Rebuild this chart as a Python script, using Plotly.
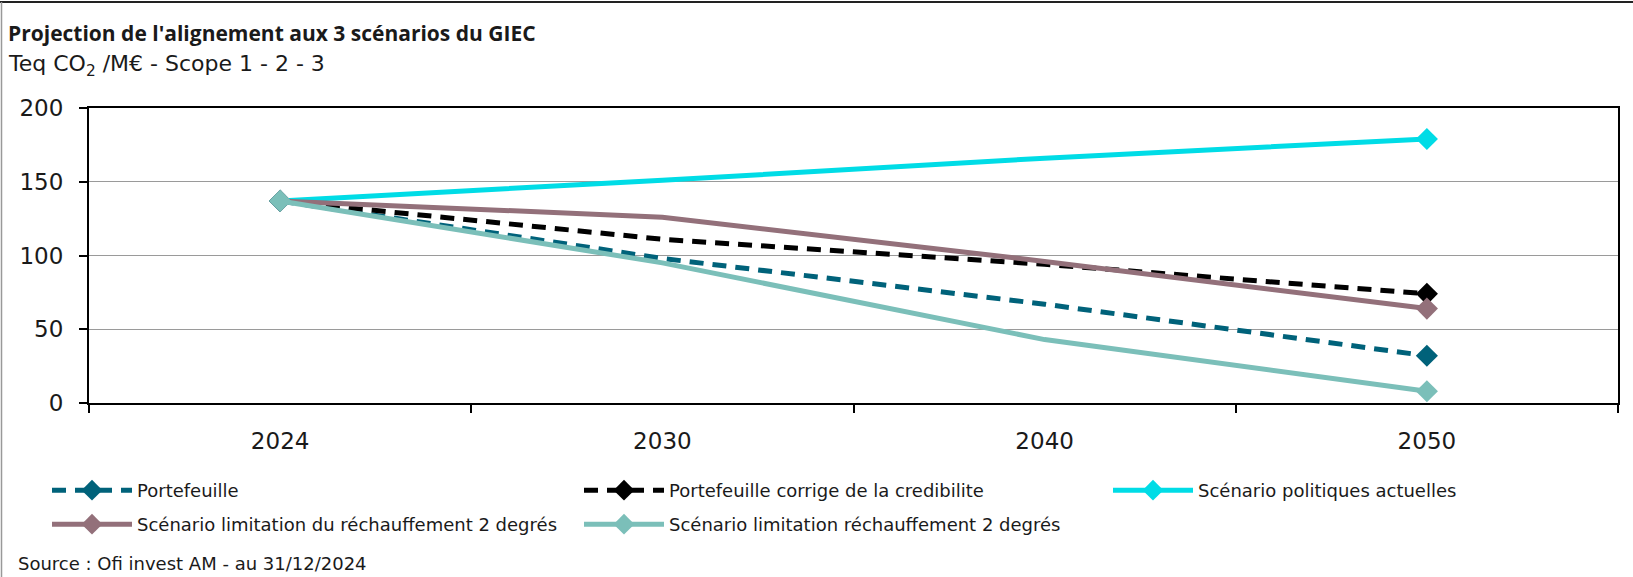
import plotly.graph_objects as go

years = ["2024", "2030", "2040", "2050"]
portefeuille = [137, 98, 67, 32]
portefeuille_corrige = [137, 111, 94, 74]
scen_politiques = [137, 151, 166, 179]
scen_2deg_du = [137, 126, 96, 64]
scen_2deg = [137, 95, 43, 8]

names = [
    "Portefeuille",
    "Portefeuille corrige de la credibilite",
    "Scénario politiques actuelles",
    "Scénario limitation du réchauffement 2 degrés",
    "Scénario limitation réchauffement 2 degrés",
]
series = [portefeuille, portefeuille_corrige, scen_politiques, scen_2deg_du, scen_2deg]
colors = ["#00627A", "#000000", "#00DCE6", "#93707A", "#7BBFB9"]
dashes = ["14px,9px", "14px,9px", "solid", "solid", "solid"]
legends = ["legend", "legend", "legend3", "legend2", "legend2"]

W, H = 1633, 577
L, R, T, B = 89, 15, 108, 174
pw, ph = W - L - R, H - T - B

def px(x):
    return (x - L) / pw

def py(y):
    return (H - B - y) / ph

FONT = "DejaVu Sans"
TFONT = "Open Sans"
TXT = "#1a1a1a"

fig = go.Figure()
for name, vals, c, d, lg in zip(names, series, colors, dashes, legends):
    fig.add_trace(go.Scatter(
        x=years, y=vals, name=name, mode="lines+markers", legend=lg,
        line=dict(color=c, width=5, dash=d),
        marker=dict(symbol="diamond", size=17, color=c),
        selectedpoints=[0, len(vals) - 1],
        selected=dict(marker=dict(opacity=1)),
        unselected=dict(marker=dict(opacity=0)),
    ))

leg_common = dict(
    orientation="h", xanchor="left", yanchor="top", itemwidth=80,
    entrywidthmode="pixels",
    font=dict(size=18, family=FONT, color=TXT),
    bgcolor="rgba(0,0,0,0)",
)

fig.update_layout(
    width=W, height=H,
    margin=dict(l=L, r=R, t=T, b=B, autoexpand=False),
    paper_bgcolor="white", plot_bgcolor="white",
    font=dict(family=FONT, color=TXT),
    showlegend=True,
    legend=dict(x=px(47), y=py(472), entrywidth=437, **leg_common),
    legend3=dict(x=px(1108), y=py(472), entrywidth=300, **leg_common),
    legend2=dict(x=px(47), y=py(506), entrywidth=437, **leg_common),
    xaxis=dict(
        type="category", range=[-0.5, 3.5], tickson="boundaries",
        ticks="outside", ticklen=8,
        tickcolor="black", tickwidth=1.5, showline=True, linecolor="black",
        linewidth=2, mirror=True, showgrid=False, zeroline=False,
        tickfont=dict(size=23, family=FONT, color=TXT),
        ticklabelstandoff=16,
    ),
    yaxis=dict(
        range=[0, 200], dtick=50, ticks="outside", ticklen=8, tickcolor="black",
        tickwidth=1.5, showline=True, linecolor="black", linewidth=2, mirror=True,
        showgrid=True, gridcolor="#9a9a9a", gridwidth=1, zeroline=False,
        tickfont=dict(size=23, family=FONT, color=TXT),
        ticklabelstandoff=11,
    ),
    annotations=[
        dict(text="<b>Projection de l'alignement aux 3 scénarios du GIEC</b>",
             xref="paper", yref="paper", x=px(6), y=py(33), xanchor="left",
             yanchor="middle", showarrow=False,
             font=dict(size=21, family=TFONT, color=TXT)),
        dict(text="Teq CO<sub>2</sub> /M€ - Scope 1 - 2 - 3",
             xref="paper", yref="paper", x=px(6), y=py(65), xanchor="left",
             yanchor="middle", showarrow=False,
             font=dict(size=22, family=FONT, color=TXT)),
        dict(text="Source : Ofi invest AM - au 31/12/2024",
             xref="paper", yref="paper", x=px(16), y=py(563), xanchor="left",
             yanchor="middle", showarrow=False,
             font=dict(size=18, family=FONT, color=TXT)),
    ],
    shapes=[
        dict(type="line", xref="paper", yref="paper", x0=px(0), x1=px(W),
             y0=py(2), y1=py(2), line=dict(color="#222222", width=2)),
        dict(type="line", xref="paper", yref="paper", x0=px(1.5), x1=px(1.5),
             y0=py(2), y1=py(H), line=dict(color="#999999", width=1.5)),
    ],
)

fig.write_html("out.html")
